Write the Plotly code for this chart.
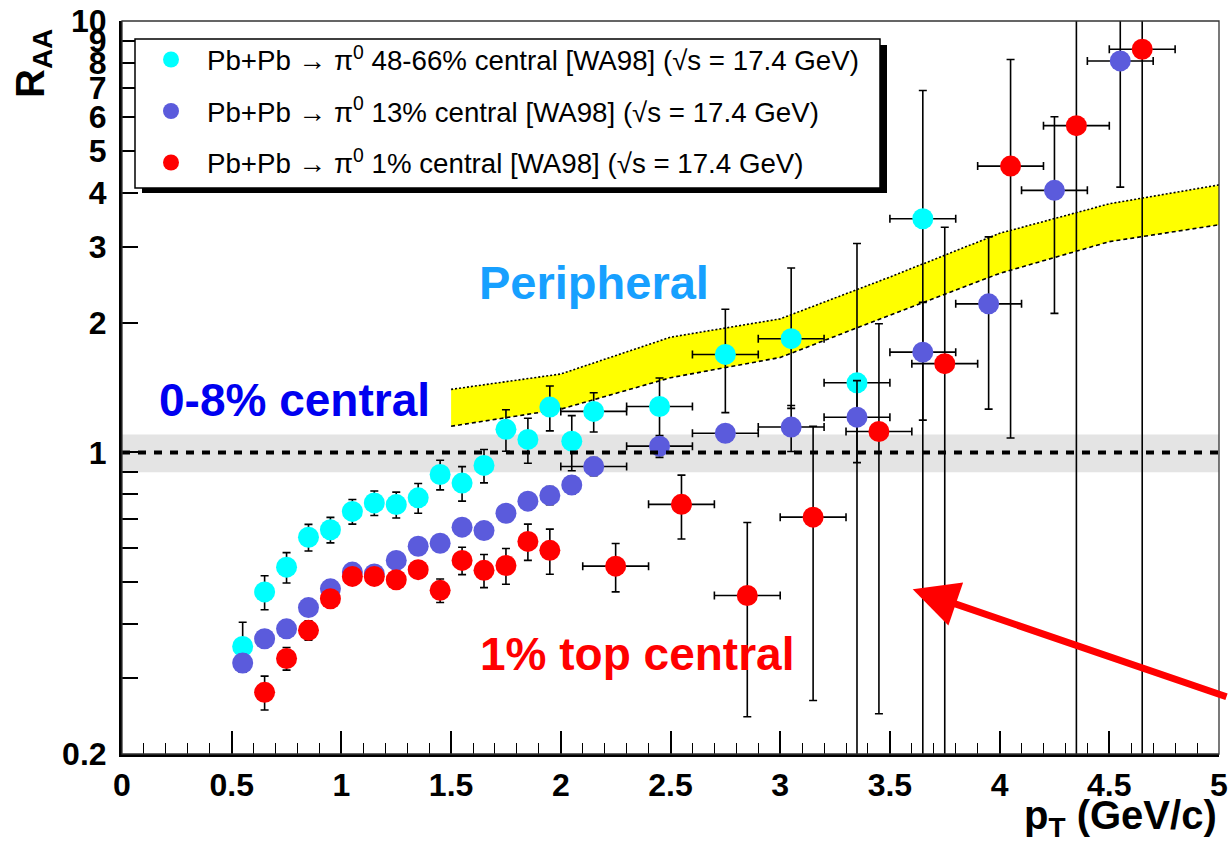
import plotly.graph_objects as go

# ---------------- data ----------------
pt_per = [0.55, 0.65, 0.75, 0.85, 0.95, 1.05, 1.15, 1.25, 1.35, 1.45, 1.55, 1.65, 1.75, 1.85,
          1.95, 2.05, 2.15, 2.45, 2.75, 3.05, 3.35, 3.65]
raa_per = [0.355, 0.475, 0.542, 0.636, 0.662, 0.730, 0.764, 0.757, 0.785, 0.889, 0.849, 0.933,
           1.131, 1.072, 1.274, 1.062, 1.245, 1.278, 1.687, 1.835, 1.45, 3.48]
eup_per = [0.049, 0.043, 0.044, 0.045, 0.045, 0.048, 0.050, 0.052, 0.062, 0.070, 0.078, 0.083,
           0.125, 0.128, 0.152, 0.155, 0.130, 0.21, 0.46, 0.84, 1.60, 3.42]
edn_per = [0.045, 0.043, 0.044, 0.045, 0.045, 0.048, 0.050, 0.052, 0.062, 0.070, 0.078, 0.083,
           0.125, 0.128, 0.152, 0.155, 0.130, 0.21, 0.45, 0.57, 1.60, 3.42]
ex_per = [0, 0, 0, 0, 0, 0, 0, 0, 0, 0, 0, 0, 0, 0, 0, 0, 0.15, 0.15, 0.15, 0.15, 0.15, 0.15]

pt_c13 = [0.55, 0.65, 0.75, 0.85, 0.95, 1.05, 1.15, 1.25, 1.35, 1.45, 1.55, 1.65, 1.75, 1.85,
          1.95, 2.05, 2.15, 2.45, 2.75, 3.05, 3.35, 3.65, 3.95, 4.25, 4.55]
raa_c13 = [0.325, 0.370, 0.390, 0.437, 0.483, 0.528, 0.523, 0.562, 0.606, 0.616, 0.671, 0.659,
           0.723, 0.771, 0.795, 0.841, 0.928, 1.034, 1.108, 1.145, 1.207, 1.708, 2.21, 4.05, 8.08]
err_c13 = [0.015, 0.015, 0.015, 0.017, 0.018, 0.020, 0.020, 0.022, 0.024, 0.025, 0.028, 0.030,
           0.032, 0.035, 0.038, 0.040, 0.045, 0.06, 0.05, 0.14, 0.26, 0.52, 0.95, 1.95, 3.96]
ex_c13 = [0, 0, 0, 0, 0, 0, 0, 0, 0, 0, 0, 0, 0, 0, 0, 0, 0.15, 0.15, 0.15, 0.15, 0.15, 0.15,
          0.15, 0.15, 0.15]

pt_c1 = [0.65, 0.75, 0.85, 0.95, 1.05, 1.15, 1.25, 1.35, 1.45, 1.55, 1.65, 1.75, 1.85, 1.95,
         2.25, 2.55, 2.85, 3.15, 3.45, 3.75, 4.05, 4.35, 4.65]
raa_c1 = [0.278, 0.333, 0.387, 0.458, 0.516, 0.516, 0.507, 0.535, 0.479, 0.562, 0.533, 0.547,
          0.622, 0.593, 0.545, 0.758, 0.466, 0.708, 1.118, 1.606, 4.61, 5.72, 8.6]
err_c1 = [0.025, 0.020, 0.020, 0.020, 0.020, 0.020, 0.020, 0.020, 0.030, 0.041, 0.047, 0.052,
          0.060, 0.071, 0.070, 0.128, 0.222, 0.442, 0.87, 1.72, 3.53, 6.0, 9.0]
ex_c1 = [0, 0, 0, 0, 0, 0, 0, 0, 0, 0, 0, 0, 0, 0, 0.15, 0.15, 0.15, 0.15, 0.15, 0.15, 0.15,
         0.15, 0.15]

band_pt = [1.5, 2.0, 2.5, 3.0, 3.5, 4.0, 4.5, 5.0]
band_hi = [1.40, 1.52, 1.85, 2.04, 2.55, 3.22, 3.77, 4.17]
band_lo = [1.15, 1.26, 1.49, 1.66, 2.08, 2.60, 3.08, 3.37]

unity_x = [0, 5]
unity_y = [1, 1]
unity_lo = 0.9
unity_hi = 1.1

x_tickvals = [0, 0.5, 1, 1.5, 2, 2.5, 3, 3.5, 4, 4.5, 5]
x_ticktext = ["0", "0.5", "1", "1.5", "2", "2.5", "3", "3.5", "4", "4.5", "5"]
y_tickvals = [0.2, 1, 2, 3, 4, 5, 6, 7, 8, 9, 10]
y_ticktext = ["0.2", "1", "2", "3", "4", "5", "6", "7", "8", "9", "10"]
y_minorvals = [0.3, 0.4, 0.5, 0.6, 0.7, 0.8, 0.9]

names = [
    "Pb+Pb \u2192 \u03c0<sup>0</sup> 48-66% central [WA98] (\u221as = 17.4 GeV)",
    "Pb+Pb \u2192 \u03c0<sup>0</sup> 13% central [WA98] (\u221as = 17.4 GeV)",
    "Pb+Pb \u2192 \u03c0<sup>0</sup> 1% central [WA98] (\u221as = 17.4 GeV)",
]
colors = ["#00ffff", "#5b5bdc", "#ff0000"]

FONT = "Liberation Sans, Arial, Helvetica, sans-serif"

# ---------------- figure ----------------
W, H = 1228, 843
ML, MR, MT, MB = 122, 9, 21, 89
PW, PH = W - ML - MR, H - MT - MB


def px2paper(px, py):
    return (px - ML) / PW, (H - MB - py) / PH


fig = go.Figure()

# grey band around unity
fig.add_trace(go.Scatter(x=[unity_x[0], unity_x[1], unity_x[1], unity_x[0], unity_x[0]],
                         y=[unity_lo, unity_lo, unity_hi, unity_hi, unity_lo],
                         mode="lines", fill="toself", fillcolor="#e4e4e4",
                         line=dict(width=0), showlegend=False, hoverinfo="skip"))

# yellow band
fig.add_trace(go.Scatter(x=band_pt, y=band_lo, mode="lines",
                         line=dict(color="black", width=1.6, dash="4px,3px"),
                         showlegend=False, hoverinfo="skip"))
fig.add_trace(go.Scatter(x=band_pt, y=band_hi, mode="lines", fill="tonexty",
                         fillcolor="#ffff00",
                         line=dict(color="black", width=1.6, dash="2px,2px"),
                         showlegend=False, hoverinfo="skip"))

series = [
    (pt_per, raa_per, eup_per, edn_per, ex_per),
    (pt_c13, raa_c13, err_c13, err_c13, ex_c13),
    (pt_c1, raa_c1, err_c1, err_c1, ex_c1),
]
for i, (xs, ys, eu, ed, ex) in enumerate(series):
    fig.add_trace(go.Scatter(
        x=xs, y=ys, mode="markers", name=names[i], legendgroup=f"g{i}",
        marker=dict(color=colors[i], size=21, symbol="circle", line=dict(width=0)),
        error_y=dict(type="data", symmetric=False, array=eu, arrayminus=ed,
                     color="black", thickness=1.6, width=4),
        error_x=dict(type="data", array=ex, color="black", thickness=1.6, width=4),
    ))

# dashed unity line on top
fig.add_trace(go.Scatter(x=unity_x, y=unity_y, mode="lines",
                         line=dict(color="black", width=4, dash="8px,8px"),
                         showlegend=False, hoverinfo="skip"))

# ---------------- layout ----------------
bx0, by1 = px2paper(135, 39)
bx1, by0 = px2paper(880, 188)
sx0, sy0 = px2paper(142, 193)
sx1, sy1 = px2paper(887, 45)

shapes = [
    dict(type="rect", xref="paper", yref="paper", x0=0, x1=1, y0=0, y1=1,
         line=dict(color="#333333", width=1.3), layer="above"),
    dict(type="rect", xref="paper", yref="paper", x0=sx0, x1=sx1, y0=sy0, y1=by0,
         fillcolor="black", line=dict(width=0), layer="above"),
    dict(type="rect", xref="paper", yref="paper", x0=bx1, x1=sx1, y0=sy0, y1=sy1,
         fillcolor="black", line=dict(width=0), layer="above"),
    dict(type="rect", xref="paper", yref="paper", x0=bx0, x1=bx1, y0=by0, y1=by1,
         fillcolor="white", line=dict(color="black", width=1.5), layer="above"),
]

ann = []


def text_ann(txt, px, py, color, size, **kw):
    x, y = px2paper(px, py)
    d = dict(text=txt, x=x, y=y, xref="paper", yref="paper", showarrow=False,
             font=dict(family=FONT, size=size, color=color, weight="bold"),
             xanchor="center", yanchor="middle")
    d.update(kw)
    ann.append(d)


text_ann("Peripheral", 594, 282, "#17a0ff", 47)
text_ann("0-8% central", 294, 400, "#0000f0", 46)
text_ann("1% top central", 637, 654, "#ff0000", 46)
text_ann("R<sub>AA</sub>", 33, 64, "black", 40, textangle=-90)
text_ann("p<sub>T</sub> (GeV/c)", 1219, 818, "black", 40, xanchor="right")

tx, ty = px2paper(912.7, 589.3)
ann.append(dict(x=tx, y=ty, xref="paper", yref="paper", text="", showarrow=True,
                ax=337, ay=108, axref="pixel", ayref="pixel",
                arrowcolor="#ff0000", arrowwidth=7, arrowhead=2, arrowsize=1.3,
                standoff=0))

lx, ly = px2paper(135, 35)

fig.update_layout(
    width=W, height=H,
    margin=dict(l=ML, r=MR, t=MT, b=MB, autoexpand=False),
    paper_bgcolor="white", plot_bgcolor="white",
    font=dict(family=FONT, color="black"),
    showlegend=True,
    legend=dict(x=lx, y=ly, xanchor="left", yanchor="top",
                bgcolor="rgba(0,0,0,0)", borderwidth=0,
                font=dict(family=FONT, size=27.7, color="black"),
                traceorder="grouped", tracegroupgap=12.5, itemwidth=62),
    shapes=shapes,
    annotations=ann,
    xaxis=dict(range=[0, 5], tickmode="array", tickvals=x_tickvals, ticktext=x_ticktext,
               ticks="inside", ticklen=23, tickwidth=1.6, tickcolor="black",
               minor=dict(ticks="inside", ticklen=11, tickwidth=1.4, tickcolor="black",
                          tickmode="linear", tick0=0, dtick=0.1),
               showline=True, linewidth=3, linecolor="black", showgrid=False, zeroline=False,
               tickfont=dict(family=FONT, size=32, color="black", weight="bold"),
               ticklabelstandoff=1),
    yaxis=dict(type="log", range=[-0.69897, 1], tickmode="array", tickvals=y_tickvals,
               ticktext=y_ticktext, ticks="inside", ticklen=16, tickwidth=1.6,
               tickcolor="black",
               minor=dict(ticks="inside", ticklen=16, tickwidth=1.6, tickcolor="black",
                          tickmode="array", tickvals=y_minorvals),
               showline=True, linewidth=3, linecolor="black",
               showgrid=False, zeroline=False,
               tickfont=dict(family=FONT, size=32, color="black", weight="bold"),
               ticklabelstandoff=6),
)

fig.write_html("out.html", config={"displayModeBar": False},
               post_script="document.body.style.margin='0';document.body.style.padding='0';")
